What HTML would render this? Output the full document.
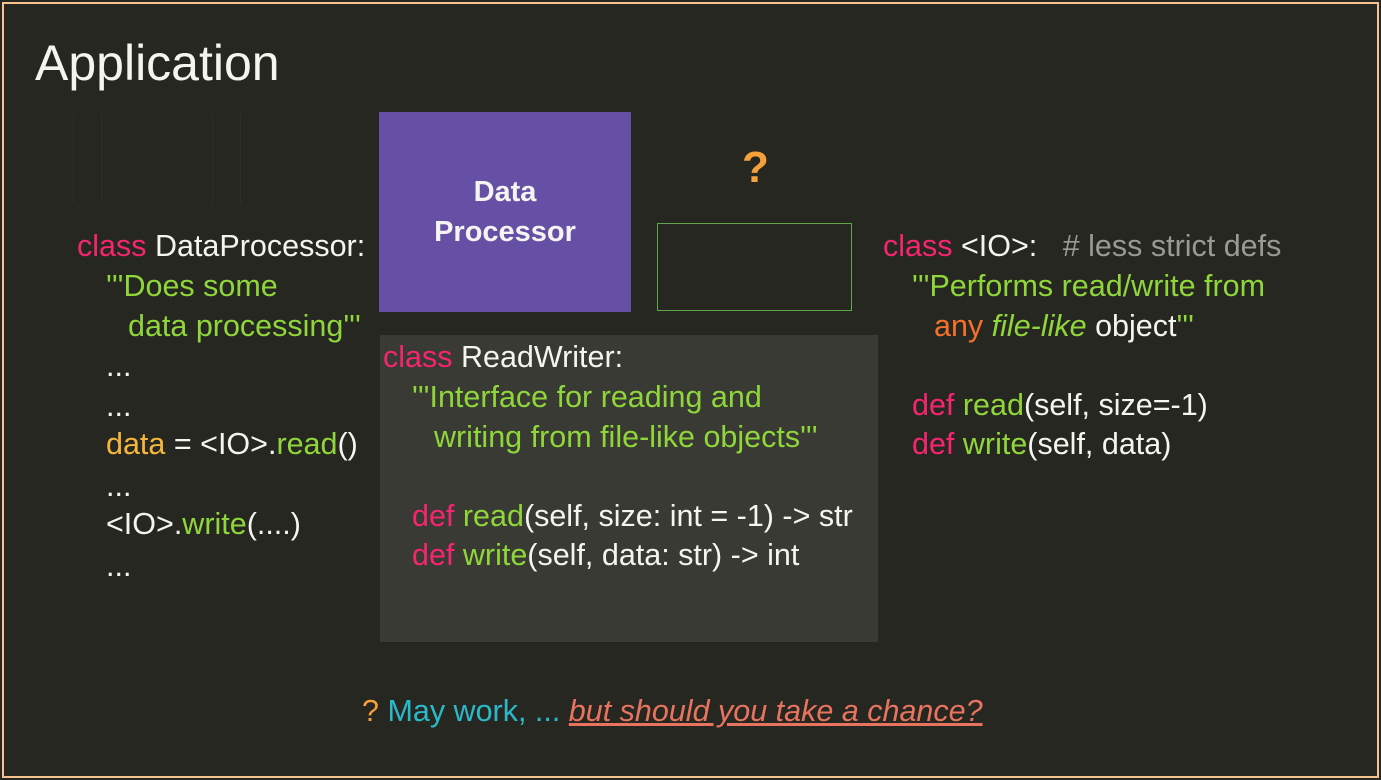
<!DOCTYPE html>
<html><head><meta charset="utf-8"><style>
html,body{margin:0;padding:0}
body{width:1381px;height:780px;background:#272722;position:relative;overflow:hidden;font-family:"Liberation Sans",sans-serif;color:#f4f4f0}
.frame{position:absolute;left:2px;top:2px;width:1373px;height:772px;border:2px solid #f5c28f}
.t{position:absolute;white-space:pre;font-size:30.5px;line-height:40px;height:40px}
.k{color:#f5256f}.g{color:#8fd63a}.o{color:#f5a03a}.y{color:#f5b73b}.c{color:#9a9a94}.w{color:#f4f4f0}
</style></head><body>
<div class="frame"></div>
<div class="t" style="left:35px;top:36px;font-size:50px;line-height:54px;height:54px">Application</div>
<div style="position:absolute;left:73px;top:113px;width:1px;height:90px;background:#2e2e29"></div>
<div style="position:absolute;left:101px;top:113px;width:1px;height:90px;background:#2e2e29"></div>
<div style="position:absolute;left:212px;top:113px;width:1px;height:90px;background:#2e2e29"></div>
<div style="position:absolute;left:240px;top:113px;width:1px;height:90px;background:#2e2e29"></div>

<div style="position:absolute;left:379px;top:112px;width:252px;height:200px;background:#6550a5"></div>
<div class="t" style="left:379px;width:252px;text-align:center;top:172px;font-weight:bold;font-size:29px">Data</div>
<div class="t" style="left:379px;width:252px;text-align:center;top:212px;font-weight:bold;font-size:29px">Processor</div>

<div class="t o" style="left:742px;top:145px;font-size:44px;line-height:46px;height:46px;font-weight:bold">?</div>
<div style="position:absolute;left:657px;top:223px;width:193px;height:86px;border:1.5px solid #5fa84a"></div>

<div style="position:absolute;left:380px;top:335px;width:498px;height:307px;background:#3a3a34"></div>

<div class="t" style="left:77px;top:226px"><span class="k">class</span> DataProcessor:</div>
<div class="t g" style="left:106px;top:266px">'''Does some</div>
<div class="t g" style="left:128px;top:306px">data processing'''</div>
<div class="t" style="left:106px;top:346px">...</div>
<div class="t" style="left:106px;top:386px">...</div>
<div class="t" style="left:106px;top:424px"><span class="y">data</span> = &lt;IO&gt;.<span class="g">read</span>()</div>
<div class="t" style="left:106px;top:466px">...</div>
<div class="t" style="left:106px;top:504px">&lt;IO&gt;.<span class="g">write</span>(....)</div>
<div class="t" style="left:106px;top:546px">...</div>

<div class="t" style="left:383px;top:337px"><span class="k">class</span> ReadWriter:</div>
<div class="t g" style="left:412px;top:377px">'''Interface for reading and</div>
<div class="t g" style="left:434px;top:417px">writing from file-like objects'''</div>
<div class="t" style="left:412px;top:496px"><span class="k">def</span> <span class="g">read</span>(self, size: int = -1) -&gt; str</div>
<div class="t" style="left:412px;top:535px"><span class="k">def</span> <span class="g">write</span>(self, data: str) -&gt; int</div>

<div class="t" style="left:883px;top:226px"><span class="k">class</span> &lt;IO&gt;:   <span class="c"># less strict defs</span></div>
<div class="t g" style="left:912px;top:266px">'''Performs read/write from</div>
<div class="t" style="left:934px;top:306px"><span style="color:#f5702a">any</span> <i class="g">file-like</i> object<span class="g">'''</span></div>
<div class="t" style="left:912px;top:385px"><span class="k">def</span> <span class="g">read</span>(self, size=-1)</div>
<div class="t" style="left:912px;top:424px"><span class="k">def</span> <span class="g">write</span>(self, data)</div>

<div class="t" style="left:362px;top:691px"><span class="o">?</span> <span style="color:#2ab9c9">May work, ...</span> <i style="color:#e8735f;text-decoration:underline">but should you take a chance?</i></div>
</body></html>
